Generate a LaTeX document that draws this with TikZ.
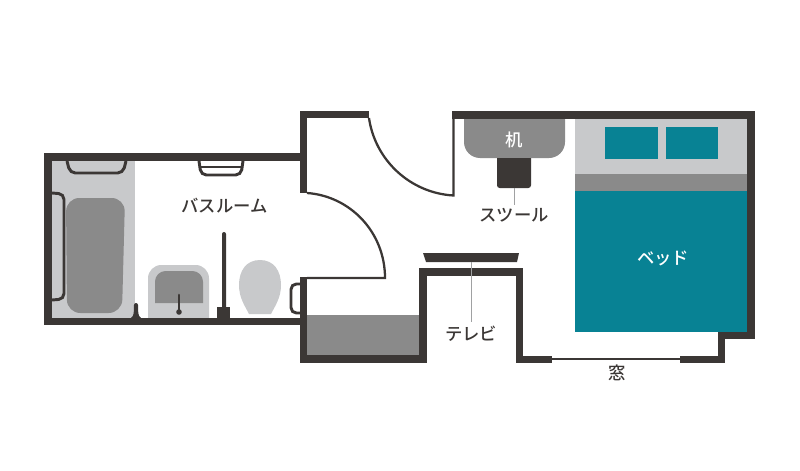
\documentclass[tikz,border=0pt]{standalone}
\usepackage{fontspec}
\setmainfont{Noto Sans CJK JP Medium}
\usetikzlibrary{positioning}
\definecolor{wallc}{HTML}{3B3735}
\definecolor{midc}{HTML}{8A8A8A}
\definecolor{lightc}{HTML}{C8C9CB}
\definecolor{tealc}{HTML}{088294}
\tikzset{
    wall/.style={fill=wallc, draw=none},
    thinline/.style={draw=wallc, line width=1.7pt},
    railline/.style={draw=wallc, line width=2.2pt, rounded corners=4pt},
    leader/.style={draw=lightc!80!black, line width=0.7pt},
    label/.style={font=\fontsize{13}{13}\selectfont, text=wallc, inner sep=0pt},
    whitelabel/.style={font=\fontsize{13}{13}\selectfont, text=white, inner sep=0pt}
}
\begin{document}
\begin{tikzpicture}[x=0.75pt, y=-0.75pt]
    \useasboundingbox (0,0) rectangle (800,471);
    % floor areas
    \fill[lightc] (52,161) rectangle (135,318);
    \fill[midc, rounded corners=10pt] (66,198) -- (125,198) -- (122,313) -- (67,313) -- cycle;
    \fill[lightc] (148,318) [rounded corners=10pt] -- (148,265) -- (209,265) [sharp corners] -- (209,318) -- cycle;
    \fill[midc] (155,303) [rounded corners=8pt] -- (155,271) -- (203,271) [sharp corners] -- (203,303) -- cycle;
    \fill[lightc] (260,260) .. controls (274,260) and (281,271) .. (281,285)
        .. controls (281,298) and (275,306) .. (271,314) -- (249,314)
        .. controls (245,306) and (239,298) .. (239,285)
        .. controls (239,271) and (246,260) .. (260,260) -- cycle;
    \fill[midc] (307,315) rectangle (419,355);
    % bed
    \fill[lightc] (575,119) rectangle (747,174);
    \fill[midc] (575,174) rectangle (747,191);
    \fill[tealc] (575,191) rectangle (747,332);
    \fill[tealc] (605,127) rectangle (658,159);
    \fill[tealc] (666,127) rectangle (718,159);
    % desk and stool
    \fill[midc] (464,118) [rounded corners=12pt] -- (464,158) -- (565,158) [sharp corners] -- (565,118) -- cycle;
    \fill[wallc] (497,158) [rounded corners=2pt] -- (497,188) -- (531,188) [sharp corners] -- (531,158) -- cycle;
    % walls
    \fill[wall] (44,153) rectangle (300,161);
    \fill[wall] (44,153) rectangle (52,325);
    \fill[wall] (44,318) rectangle (300,325);
    \fill[wall] (300,111) rectangle (369,118);
    \fill[wall] (300,111) rectangle (307,193);
    \fill[wall] (300,277) rectangle (307,363);
    \fill[wall] (300,355) rectangle (427,363);
    \fill[wall] (419,268) rectangle (427,363);
    \fill[wall] (419,268) rectangle (523,276);
    \fill[wall] (516,268) rectangle (523,363);
    \fill[wall] (516,356) rectangle (552,363);
    \fill[wall] (680,356) rectangle (725,363);
    \fill[wall] (718,332) rectangle (725,363);
    \fill[wall] (718,332) rectangle (755,339);
    \fill[wall] (747,111) rectangle (755,339);
    \fill[wall] (452,111) rectangle (755,119);
    \fill[wall] (423,253) -- (519,253) -- (517,262) -- (426,262) -- cycle;
    % doors and window
    \coordinate (doorA) at (369,118);
    \coordinate (doorB) at (453.5,195.5);
    \coordinate (doorC) at (307,193);
    \coordinate (doorD) at (385,278);
    \draw[thinline] (doorA) .. controls (375,160) and (410,193) .. (doorB) -- (453.5,118);
    \draw[thinline] (doorC) .. controls (350,196) and (385,232) .. (doorD) -- (307,278);
    \coordinate (winA) at (552,359);
    \coordinate (winB) at (680,359);
    \draw[draw=wallc, line width=0.9pt] (winA) -- (winB);
    % rails
    \draw[railline] (67,161) -- (70,173) -- (123,173) -- (126,161);
    \draw[railline] (199,161) -- (201,175) -- (241,175) -- (243,161);
    \draw[draw=wallc, line width=1.5pt] (200,167) -- (242,167);
    \draw[railline] (52,193) -- (64,194) -- (64,299) -- (52,300);
    \draw[railline] (300,284) -- (291,284) -- (291,313) -- (300,313);
    % bathroom fittings
    \fill[wall] (131,318) .. controls (134,316) and (134,312) .. (134,305) arc[start angle=180, end angle=360, radius=2]
        .. controls (138,312) and (138,316) .. (141,318) -- cycle;
    \fill[wall] (222,234) arc[start angle=180, end angle=360, radius=2] -- (226,318) -- (222,318) -- cycle;
    \fill[wall] (217,307) rectangle (230,318);
    \draw[draw=wallc, line width=2pt, line cap=round] (179,295) -- (179,311);
    \fill[wallc] (179,312) circle (2.8);
    % leaders
    \coordinate (stoolEnd) at (514,205);
    \coordinate (stoolTop) at (514,188);
    \coordinate (tvTop) at (471,262);
    \coordinate (tvEnd) at (471,322);
    \draw[leader] (stoolTop) -- (stoolEnd);
    \draw[leader] (tvTop) -- (tvEnd);
    % labels
    \node[label] (bath) at (224.5,206) {バスルーム};
    \node[whitelabel] (desk) at (514,140) {机};
    \node[label] (stool) at (514,215) {スツール};
    \node[whitelabel] (bed) at (663,258) {ベッド};
    \node[label] (tv) at (471,334) {テレビ};
    \node[label] (window) at (617,373) {窓};
\end{tikzpicture}
\end{document}
